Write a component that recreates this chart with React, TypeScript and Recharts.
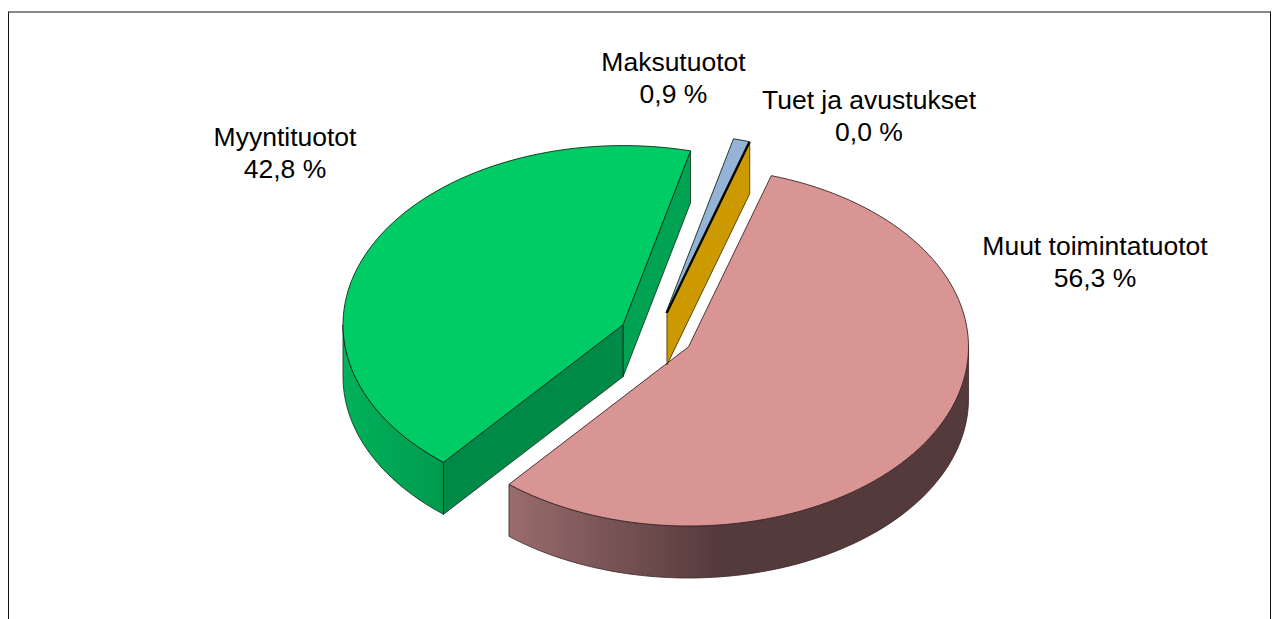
import React from "react";
import { PieChart, Pie, Cell } from "recharts";

const names = ["Muut toimintatuotot", "Myyntituotot", "Maksutuotot", "Tuet ja avustukset"];
const values = [56.3, 42.8, 0.9, 0.0];
const valueLabels = ["56,3 %", "42,8 %", "0,9 %", "0,0 %"];
const topColors = ["#D99594", "#00CC66", "#95B3D7", "#CC9900"];

const labelAnchors = [
  { x: 1095, y: 255 },
  { x: 285, y: 146 },
  { x: 673.5, y: 71 },
  { x: 869, y: 109 },
];

const W = 1274;
const H = 619;
const CX = 656;
const CY = 335.5;
const R = 280;
const SQUASH = 0.64;
const DEPTH = 52;
const EXPLODE = 37;
const START = 72.8;

const rad = (d: number) => (d * Math.PI) / 180;

function pt(cx: number, cy: number, r: number, angle: number) {
  return { x: cx + r * Math.cos(rad(angle)), y: cy - r * Math.sin(rad(angle)) * SQUASH };
}

function arcPoints(cx: number, cy: number, r: number, from: number, to: number, dy = 0) {
  const steps = Math.max(2, Math.ceil(Math.abs(from - to) / 2));
  const out: string[] = [];
  for (let i = 0; i <= steps; i++) {
    const p = pt(cx, cy, r, from + ((to - from) * i) / steps);
    out.push(`${p.x.toFixed(2)} ${(p.y + dy).toFixed(2)}`);
  }
  return out;
}

function wallPath(cx: number, cy: number, r: number, from: number, to: number) {
  const top = arcPoints(cx, cy, r, from, to);
  const bottom = arcPoints(cx, cy, r, to, from, DEPTH);
  return `M${top.join(" L")} L${bottom.join(" L")} Z`;
}

function Slice(props: any) {
  const { cx, cy, outerRadius, startAngle, endAngle, midAngle, index } = props;
  const r = outerRadius as number;
  const mid = midAngle ?? (startAngle + endAngle) / 2;
  const c = pt(cx, cy, EXPLODE, mid);
  const ox = c.x;
  const oy = c.y;
  const a = pt(ox, oy, r, startAngle);
  const b = pt(ox, oy, r, endAngle);
  const stroke = index === 0 ? "#3b2626" : "#0f2a1c";
  const els: React.ReactNode[] = [];

  if (index === 0) {
    els.push(
      <path key="wall" d={wallPath(ox, oy, r, 0, endAngle)} fill="url(#pinkWall)" stroke={stroke} strokeWidth={0.8} />
    );
  }
  if (index === 1) {
    els.push(
      <path key="wall" d={wallPath(ox, oy, r, startAngle, -180)} fill="url(#greenWall)" stroke={stroke} strokeWidth={0.8} />,
      <path key="cutB" d={`M${b.x} ${b.y} L${ox} ${oy} L${ox} ${oy + DEPTH} L${b.x} ${b.y + DEPTH} Z`} fill="#00A352" stroke={stroke} strokeWidth={0.8} />,
      <path key="cutA" d={`M${a.x} ${a.y} L${ox} ${oy} L${ox} ${oy + DEPTH} L${a.x} ${a.y + DEPTH} Z`} fill="#008A48" stroke={stroke} strokeWidth={0.8} />
    );
  }
  if (index === 3) {
    els.push(
      <path key="cut" d={`M${a.x} ${a.y} L${ox} ${oy} L${ox} ${oy + DEPTH} L${a.x} ${a.y + DEPTH} Z`} fill={topColors[3]} stroke="#3a2c00" strokeWidth={0.8} />,
      <line key="edge" x1={ox} y1={oy} x2={a.x} y2={a.y} stroke="#000" strokeWidth={2} />
    );
  } else {
    const top = arcPoints(ox, oy, r, startAngle, endAngle);
    els.push(
      <path key="top" d={`M${ox} ${oy} L${top.join(" L")} Z`} fill={topColors[index]} stroke={stroke} strokeWidth={0.9} strokeLinejoin="round" />
    );
  }
  return <g>{els}</g>;
}

function SliceLabel(props: any) {
  const i = props.index as number;
  const p = labelAnchors[i];
  return (
    <text x={p.x} textAnchor="middle" fontFamily="Liberation Sans" fontSize={26.5} fill="#000">
      <tspan x={p.x} y={p.y}>{names[i]}</tspan>
      <tspan x={p.x} y={p.y + 31.5}>{valueLabels[i]}</tspan>
    </text>
  );
}

const rows = names.map((name, i) => ({ name, value: values[i] }));

export default function App() {
  return (
    <div style={{ position: "absolute", left: 0, top: 0, width: W, height: H, overflow: "hidden", background: "#fff" }}>
      <div style={{ position: "absolute", left: 8, top: 11, width: 1261, height: 700, borderLeft: "1px solid #111", borderRight: "1px solid #111", borderTop: "2px solid #888" }} />
      <div style={{ position: "absolute", left: 0, top: 0 }}>
        <PieChart width={W} height={H} margin={{ top: 0, right: 0, bottom: 0, left: 0 }}>
          <defs>
            <linearGradient id="pinkWall" gradientUnits="userSpaceOnUse" x1={508} y1={0} x2={720} y2={0}>
              <stop offset="0" stopColor="#9A6C6D" />
              <stop offset="1" stopColor="#553A3B" />
            </linearGradient>
            <linearGradient id="greenWall" gradientUnits="userSpaceOnUse" x1={343} y1={0} x2={444} y2={0}>
              <stop offset="0" stopColor="#00B25A" />
              <stop offset="1" stopColor="#009A4E" />
            </linearGradient>
          </defs>
          <Pie
            data={rows}
            dataKey="value"
            nameKey="name"
            cx={CX}
            cy={CY}
            innerRadius={0}
            outerRadius={R}
            startAngle={START}
            endAngle={START - 360}
            paddingAngle={0}
            minAngle={0}
            stroke="none"
            isAnimationActive={false}
            shape={Slice}
            activeShape={Slice}
            label={SliceLabel}
            labelLine={false}
          >
            {rows.map((r, i) => (
              <Cell key={r.name} fill={topColors[i]} />
            ))}
          </Pie>
        </PieChart>
      </div>
    </div>
  );
}
